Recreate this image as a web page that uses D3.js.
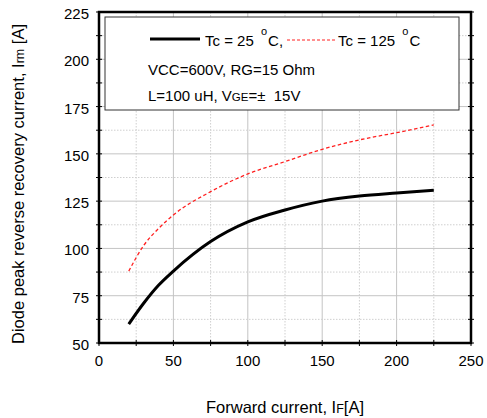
<!DOCTYPE html>
<html><head><meta charset="utf-8">
<script src="https://cdn.jsdelivr.net/npm/d3@7"></script>
<style>body{margin:0;background:#fff;} svg{display:block;font-family:"Liberation Sans",Arial,sans-serif;}</style>
</head><body>
<svg id="c" width="487" height="418"></svg>
<script>
const currentIF = [20, 30, 40, 50, 75, 100, 125, 150, 175, 200, 225];
const irm25 = [60, 71, 80.5, 88, 103.6, 114, 120.3, 125, 127.7, 129.3, 130.7];
const irm125 = [88, 101.5, 110.5, 117.7, 130, 139.4, 145.9, 152.4, 157.4, 161.2, 165.3];
const xTicks = [0, 50, 100, 150, 200, 250];
const yTicks = [50, 75, 100, 125, 150, 175, 200, 225];
const xMinor = d3.range(0, 251, 25);
const yMinor = d3.range(50, 226, 12.5);

const svg = d3.select("#c");
const L = 99, R = 471, T = 12, B = 343;
const x = d3.scaleLinear().domain([0, 250]).range([L, R]);
const y = d3.scaleLinear().domain([50, 225]).range([B, T]);

// grid
const g = svg.append("g");
xMinor.forEach(v => {
  const major = xTicks.includes(v);
  g.append("line").attr("x1", x(v)).attr("x2", x(v)).attr("y1", T).attr("y2", B)
    .attr("stroke", major ? "#c4c4c4" : "#cfcfcf").attr("stroke-width", 1)
    .attr("stroke-dasharray", major ? null : "1.5,1.5");
});
yMinor.forEach(v => {
  const major = yTicks.includes(v);
  g.append("line").attr("x1", L).attr("x2", R).attr("y1", y(v)).attr("y2", y(v))
    .attr("stroke", major ? "#c4c4c4" : "#cfcfcf").attr("stroke-width", 1)
    .attr("stroke-dasharray", major ? null : "1.5,1.5");
});

// curves
const line = d3.line().x((d, i) => x(currentIF[i])).y(d => y(d)).curve(d3.curveMonotoneX);
svg.append("path").datum(irm125).attr("d", line).attr("fill", "none")
  .attr("stroke", "#ff2020").attr("stroke-width", 1.3).attr("stroke-dasharray", "3.5,2.5");
svg.append("path").datum(irm25).attr("d", line).attr("fill", "none")
  .attr("stroke", "#000").attr("stroke-width", 3);

// legend box
const lg = svg.append("g");
lg.append("rect").attr("x", 105).attr("y", 17).attr("width", 354).attr("height", 93)
  .attr("fill", "#fff").attr("stroke", "#333").attr("stroke-width", 1);
lg.append("line").attr("x1", 150).attr("x2", 200).attr("y1", 39).attr("y2", 39)
  .attr("stroke", "#000").attr("stroke-width", 3);
lg.append("line").attr("x1", 287).attr("x2", 335).attr("y1", 40).attr("y2", 40)
  .attr("stroke", "#ff2020").attr("stroke-width", 1).attr("stroke-dasharray", "3,2");
function tc(xp, t, after) {
  const tx = lg.append("text").attr("x", xp).attr("y", 46).attr("font-size", 15);
  tx.append("tspan").text(t);
  tx.append("tspan").attr("dx", 3).attr("dy", -11).attr("font-size", 11).text("o");
  tx.append("tspan").attr("dx", 1).attr("dy", 11).text(after);
}
tc(205, "Tc = 25 ", "C,");
tc(338, "Tc = 125 ", "C");
lg.append("text").attr("x", 148).attr("y", 75).attr("font-size", 15).text("VCC=600V, RG=15 Ohm");
const t3 = lg.append("text").attr("x", 148).attr("y", 101).attr("font-size", 15).attr("style", "white-space:pre");
t3.append("tspan").text("L=100 uH, V");
t3.append("tspan").attr("font-size", 11.5).text("GE");
t3.append("tspan").text("=±  15V");

// frame
const fr = svg.append("g");
fr.append("rect").attr("x", L).attr("y", T).attr("width", R - L).attr("height", B - T)
  .attr("fill", "none").attr("stroke", "#000").attr("stroke-width", 2.5);
yMinor.forEach(v => {
  fr.append("line").attr("x1", L - 3).attr("x2", L + 3).attr("y1", y(v)).attr("y2", y(v)).attr("stroke", "#000").attr("stroke-width", 1);
  fr.append("line").attr("x1", R - 3).attr("x2", R + 3).attr("y1", y(v)).attr("y2", y(v)).attr("stroke", "#000").attr("stroke-width", 1);
});
xMinor.forEach(v => {
  fr.append("line").attr("x1", x(v)).attr("x2", x(v)).attr("y1", B - 3).attr("y2", B + 3).attr("stroke", "#000").attr("stroke-width", 1);
});

// tick labels
xTicks.forEach(v => svg.append("text").attr("x", x(v)).attr("y", 366).attr("text-anchor", "middle")
  .attr("font-size", 15).text(v));
yTicks.forEach(v => svg.append("text").attr("x", 89).attr("y", y(v) + 7).attr("text-anchor", "end")
  .attr("font-size", 15).text(v));

// axis titles
const xt = svg.append("text").attr("x", 285).attr("y", 413).attr("text-anchor", "middle").attr("font-size", 16.5);
xt.append("tspan").text("Forward current, I");
xt.append("tspan").attr("font-size", 12.5).text("F");
xt.append("tspan").text("[A]");
const yt = svg.append("text").attr("transform", "translate(24,184) rotate(-90)").attr("text-anchor", "middle").attr("font-size", 16.5);
yt.append("tspan").text("Diode peak reverse recovery current, I");
yt.append("tspan").attr("font-size", 12.5).text("rm");
yt.append("tspan").text(" [A]");
</script>
</body></html>
